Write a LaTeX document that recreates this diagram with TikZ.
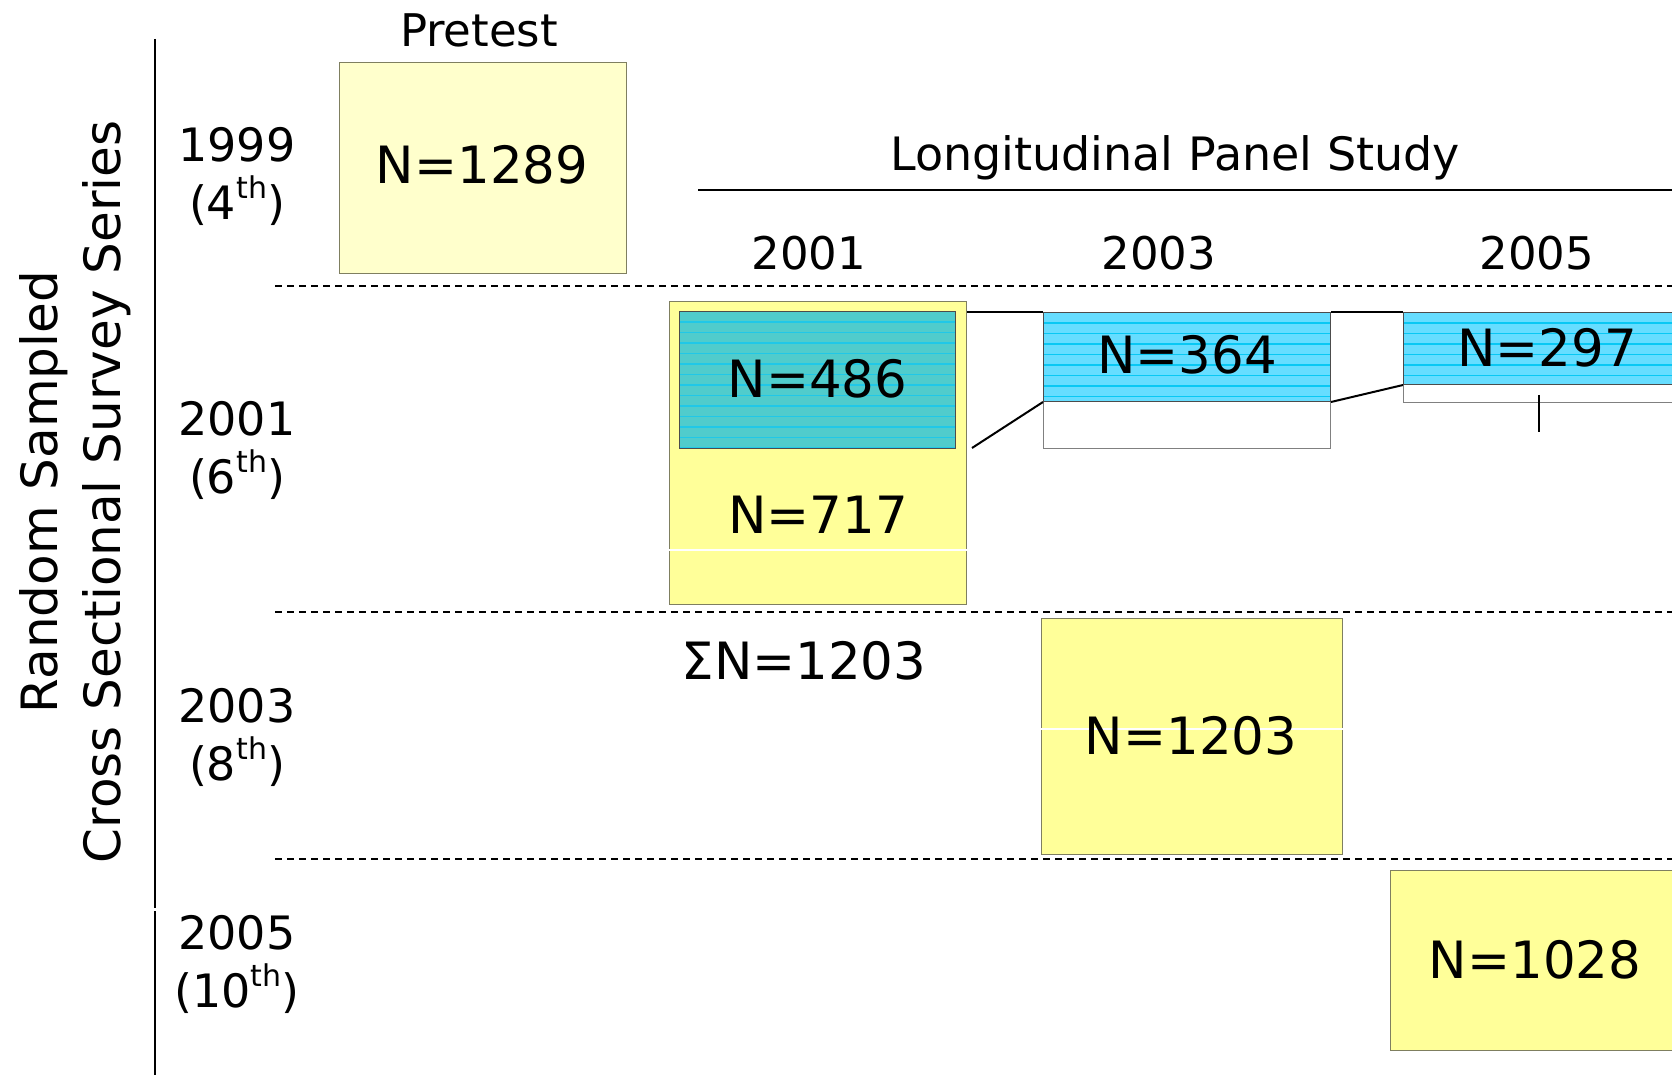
\documentclass[tikz,border=0pt]{standalone}
\usepackage{fontspec}
\setmainfont{DejaVu Sans}
\definecolor{yelA}{HTML}{FFFF99}
\definecolor{yelB}{HTML}{FFFFCC}
\definecolor{tealF}{HTML}{50CCCC}
\definecolor{tealS}{HTML}{20C8E8}
\definecolor{blueF}{HTML}{66DDFF}
\definecolor{blueS}{HTML}{08C8F4}
\definecolor{boxedge}{HTML}{7F7F60}
\begin{document}
\begin{tikzpicture}[x=0.5pt,y=-0.5pt,
  lbl/.style={inner sep=0pt, font=\fontsize{23}{29}\selectfont, align=center},
  hdr/.style={inner sep=0pt, font=\fontsize{22.5}{27}\selectfont},
  num/.style={inner sep=0pt, font=\fontsize{25.7}{30}\selectfont},
  side/.style={inner sep=0pt, font=\fontsize{25}{30}\selectfont, rotate=90},
  sz/.style 2 args={minimum width=#1*0.5pt, minimum height=#2*0.5pt, inner sep=0pt, anchor=north west},
  ybox/.style={draw=boxedge, line width=0.6pt, fill=yelA},
  wbox/.style={draw=gray, line width=0.6pt, fill=white},
  stripes/.style={path picture={\foreach \k in {1,...,24} \draw[#1, line width=0.6pt] ([yshift=-\k*5.25pt]path picture bounding box.north west) -- ([yshift=-\k*5.25pt]path picture bounding box.north east);}},
  tbox/.style={draw=black!70, line width=0.5pt, fill=tealF, stripes=tealS},
  bbox/.style={draw=black!70, line width=0.5pt, fill=blueF, stripes=blueS},
  conn/.style={line width=1pt, black},
  sep/.style={line width=0.9pt, dash pattern=on 3.5pt off 2.5pt}
]
\clip (0,0) rectangle (1672,1075);

% axis line
\coordinate (ax1) at (155,39);
\coordinate (ax2) at (155,908);
\coordinate (ax3) at (155,911);
\coordinate (ax4) at (155,1075);
\draw[line width=1pt] (ax1) -- (ax2);
\draw[line width=1pt] (ax3) -- (ax4);

% rotated labels
\node[side] (rs) at (44,492) {Random Sampled};
\node[side] (cs) at (107,492) {Cross Sectional Survey Series};

% year labels
\newcommand{\thsup}{\raisebox{0.45em}{\fontsize{15}{15}\selectfont th}}
\node[lbl] (y1999) at (237,176) {1999\\(4\thsup)};
\node[lbl] (y2001) at (237,450) {2001\\(6\thsup)};
\node[lbl] (y2003) at (237,737) {2003\\(8\thsup)};
\node[lbl] (y2005) at (237,964) {2005\\(10\thsup)};

% dashed separators
\coordinate (s1a) at (275,286); \coordinate (s1b) at (1672,286);
\coordinate (s2a) at (275,612); \coordinate (s2b) at (1672,612);
\coordinate (s3a) at (275,859); \coordinate (s3b) at (1672,859);
\draw[sep] (s1a) -- (s1b);
\draw[sep] (s2a) -- (s2b);
\draw[sep] (s3a) -- (s3b);

% pretest
\node[hdr] (pt) at (479,30) {Pretest};
\node[ybox, fill=yelB, sz={287}{211}] (b1289) at (339,62) {};
\node[num] at (482,165) {N=1289};

% longitudinal header
\node[hdr, font=\fontsize{23}{27}\selectfont] (lps) at (1175,158) {Longitudinal Panel Study};
\coordinate (l1) at (698,190); \coordinate (l2) at (1672,190);
\draw[line width=0.8pt] (l1) -- (l2);
\node[hdr] (h2001) at (809,253) {2001};
\node[hdr] (h2003) at (1159,253) {2003};
\node[hdr] (h2005) at (1537,253) {2005};

% 2001 wave
\node[ybox, sz={297}{303}] (y01) at (669,301) {};
\draw[white, line width=0.8pt] ([yshift=-124.5pt]y01.north west) -- ([yshift=-124.5pt]y01.north east);
\node[tbox, sz={276}{137}] (t486) at (679,311) {};
\node[num] at ([yshift=0.5pt]t486.center) {N=486};
\node[num] (n717) at (818,515) {N=717};
\node[num] (sig) at (804,661) {ΣN=1203};

% 2003 panel
\node[wbox, sz={287}{47}] (w364) at (1043,401) {};
\node[bbox, sz={287}{89}] (b364) at (1043,312) {};
\node[num] at ([yshift=1pt]b364.center) {N=364};

% 2005 panel
\node[wbox, sz={297}{18}] (w297) at (1403,384) {};
\node[bbox, sz={297}{72}] (b297) at (1403,312) {};
\node[num] at (1547,348) {N=297};
\coordinate (tk1) at (1539,395); \coordinate (tk2) at (1539,432);
\draw[line width=1pt] (tk1) -- (tk2);

% connectors
\coordinate (c0) at (972,448);
\draw[conn] (c0) -- (b364.south west);
\draw[conn] (y01.east |- b364.north) -- (b364.north west);
\draw[conn] (b364.north east) -- (b297.north west);
\draw[conn] (b364.south east) -- (b297.south west);

% 2003 cross-section
\node[ybox, sz={301}{236}] (y03) at (1041,618) {};
\draw[white, line width=0.8pt] ([yshift=-55.5pt]y03.north west) -- ([yshift=-55.5pt]y03.north east);
\node[num] at (1191,736) {N=1203};

% 2005 cross-section
\node[ybox, sz={310}{180}] (y05) at (1390,870) {};
\node[num] at (1535,960) {N=1028};
\end{tikzpicture}
\end{document}
